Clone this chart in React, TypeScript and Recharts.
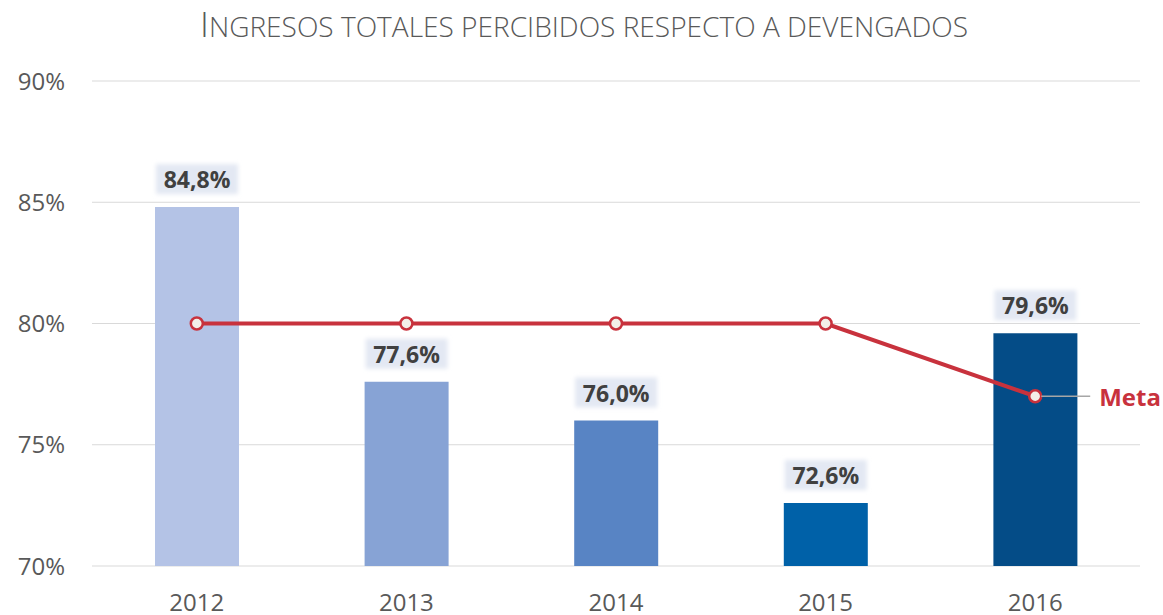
import React from 'react';
import { ComposedChart, Bar, Line, XAxis, YAxis, CartesianGrid, Cell, LabelList } from 'recharts';

const years = ['2012', '2013', '2014', '2015', '2016'];
const percibidos = [84.8, 77.6, 76.0, 72.6, 79.6];
const meta = [80, 80, 80, 80, 77];
const barColors = ['#B4C3E6', '#87A3D5', '#5884C4', '#0061A8', '#044C87'];
const yTicks = [70, 75, 80, 85, 90];

const data = years.map((y, i) => ({ year: y, value: percibidos[i], meta: meta[i] }));

const FONT = '"Open Sans", "Noto Sans", sans-serif';

const BarLabel = (props: any) => {
  const { x, y, width, value } = props;
  const cx = x + width / 2;
  const cy = y - 28;
  const txt = value.toFixed(1).replace('.', ',') + '%';
  return (
    <g>
      <rect x={cx - 41} y={cy - 15} width={82} height={30} fill="#E3E8F3" filter="url(#soft)" />
      <text x={cx} y={cy} textAnchor="middle" dominantBaseline="central" fontFamily={FONT} fontWeight="bold" fontSize={23} fill="#404040">
        {txt}
      </text>
    </g>
  );
};

const MetaLabel = (props: any) => {
  const { x, y, index } = props;
  if (index !== years.length - 1) return null;
  return (
    <g>
      <line x1={x + 6} y1={y} x2={x + 55} y2={y} stroke="#A6A6A6" strokeWidth={1.5} />
      <text x={x + 64} y={y} dominantBaseline="central" fontFamily={FONT} fontWeight="bold" fontSize={24} fill="#C8323D">
        Meta
      </text>
    </g>
  );
};

export default function App() {
  return (
    <div style={{ position: 'absolute', left: 0, top: 0, width: 1163, height: 615, background: '#fff' }}>
      <ComposedChart width={1163} height={615} data={data} margin={{ top: 81, right: 23, bottom: 9, left: 0 }}>
        <defs>
          <filter id="soft" x="-20%" y="-20%" width="140%" height="140%">
            <feGaussianBlur stdDeviation="2" />
          </filter>
        </defs>
        <text x={584} y={37} textAnchor="middle" fontFamily={FONT} fontWeight={300} fill="#595959" textLength={768} lengthAdjust="spacingAndGlyphs">
          <tspan fontSize={34}>I</tspan>
          <tspan fontSize={27}>NGRESOS TOTALES PERCIBIDOS RESPECTO A DEVENGADOS</tspan>
        </text>
        <CartesianGrid horizontal vertical={false} stroke="#D9D9D9" strokeWidth={1.2} />
        <XAxis
          dataKey="year"
          axisLine={false}
          tickLine={false}
          tickSize={0}
          tickMargin={28}
          height={40}
          tick={{ fill: '#595959', fontSize: 24, fontFamily: FONT }}
        />
        <YAxis
          domain={[70, 90]}
          ticks={yTicks}
          axisLine={false}
          tickLine={false}
          tickSize={0}
          tickMargin={27}
          width={92}
          tickFormatter={(v: number) => `${v}%`}
          tick={{ fill: '#595959', fontSize: 24, fontFamily: FONT }}
        />
        <Bar dataKey="value" barSize={84} isAnimationActive={false}>
          {data.map((d, i) => (
            <Cell key={d.year} fill={barColors[i]} />
          ))}
          <LabelList dataKey="value" content={BarLabel} />
        </Bar>
        <Line
          dataKey="meta"
          stroke="#C8323D"
          strokeWidth={4}
          isAnimationActive={false}
          dot={{ r: 6, fill: '#F3EFE8', stroke: '#C8323D', strokeWidth: 2.5 }}
          activeDot={false}
        >
          <LabelList dataKey="meta" content={MetaLabel} />
        </Line>
      </ComposedChart>
    </div>
  );
}
